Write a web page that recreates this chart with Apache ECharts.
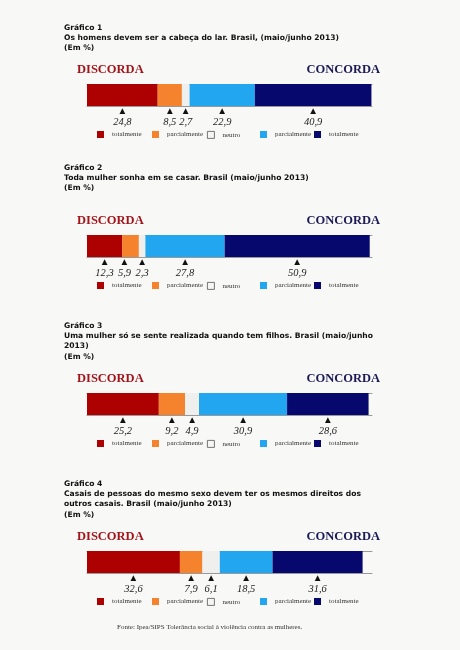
<!DOCTYPE html>
<html>
<head>
<meta charset="utf-8">
<script src="https://cdn.jsdelivr.net/npm/echarts@6/dist/echarts.min.js"></script>
<style>
html,body{margin:0;padding:0;background:#f8f8f7;}
#c{width:460px;height:650px;}
</style>
</head>
<body>
<div id="c"></div>
<script>
// ---- data ----
var chartTitles = [
  "Gráfico 1\nOs homens devem ser a cabeça do lar. Brasil, (maio/junho 2013)\n(Em %)",
  "Gráfico 2\nToda mulher sonha em se casar. Brasil (maio/junho 2013)\n(Em %)",
  "Gráfico 3\nUma mulher só se sente realizada quando tem filhos. Brasil (maio/junho\n2013)\n(Em %)",
  "Gráfico 4\nCasais de pessoas do mesmo sexo devem ter os mesmos direitos dos\noutros casais. Brasil (maio/junho 2013)\n(Em %)"
];
var categoryLabels = ["totalmente", "parcialmente", "neutro", "parcialmente", "totalmente"];
var seriesKeys = ["disc_total", "disc_parc", "neutro", "conc_parc", "conc_total"];
var values1 = [24.8, 8.5, 2.7, 22.9, 40.9];
var values2 = [12.3, 5.9, 2.3, 27.8, 50.9];
var values3 = [25.2, 9.2, 4.9, 30.9, 28.6];
var values4 = [32.6, 7.9, 6.1, 18.5, 31.6];
var allValues = [values1, values2, values3, values4];
var sideLabels = ["DISCORDA", "CONCORDA"];
var sourceText = "Fonte: Ipea/SIPS Tolerância social à violência contra as mulheres.";

// ---- layout / style ----
var colors = ["#ad0000", "#f5822d", "#efefed", "#22a6ef", "#07086e"];
var titleTops = [22.5, 163, 321, 479];
var gridTops = [84, 235, 393, 551];
var sideTops = [71, 222, 380, 538];
var legendLefts = [97, 152, 207, 260, 314];
var barH = 22;

var option = {
  backgroundColor: "#f8f8f7",
  animation: false,
  title: [], grid: [], xAxis: [], yAxis: [], series: [], legend: [], graphic: []
};

function fmt(v) { return v.toFixed(1).replace(".", ","); }

for (var g = 0; g < 4; g++) {
  option.title.push({
    text: chartTitles[g], left: 64, top: titleTops[g], padding: 0,
    textStyle: { fontFamily: "DejaVu Sans", fontWeight: "bold", fontSize: 7.6, lineHeight: 10.2, color: "#111" }
  });
  option.grid.push({ left: 87, right: 88, top: gridTops[g], height: barH });
  option.xAxis.push({
    gridIndex: g, type: "value", min: 0, max: 100, position: "bottom",
    axisLine: { show: true, lineStyle: { color: "#999", width: 1 } },
    axisTick: { show: false }, axisLabel: { show: false }, splitLine: { show: false }
  });
  option.xAxis.push({
    gridIndex: g, type: "value", min: 0, max: 100, position: "top",
    axisLine: { show: true, lineStyle: { color: "#999", width: 1 } },
    axisTick: { show: false }, axisLabel: { show: false }, splitLine: { show: false }
  });
  option.yAxis.push({
    gridIndex: g, type: "category", data: ["q"],
    axisLine: { show: false }, axisTick: { show: false }, axisLabel: { show: false }, splitLine: { show: false }
  });
  for (var s = 0; s < 5; s++) {
    var offX = 0;
    if (g === 1 && s === 1) offX = -6;
    option.series.push({
      type: "bar", name: seriesKeys[s], stack: "st" + g,
      xAxisIndex: g * 2, yAxisIndex: g, barWidth: "100%",
      data: [allValues[g][s]],
      itemStyle: { color: colors[s] },
      label: {
        show: true, position: "bottom", distance: 0.5, offset: [offX, 0],
        formatter: (function (v) { return function () { return "{t|▲}\n{v|" + fmt(v) + "}"; }; })(allValues[g][s]),
        rich: {
          t: { fontSize: 7.5, lineHeight: 9.5, color: "#111", fontFamily: "DejaVu Sans", align: "center" },
          v: { fontSize: 10.5, lineHeight: 12, color: "#222", fontFamily: "Liberation Serif", fontStyle: "italic", align: "center" }
        }
      }
    });
  }
  for (var k = 0; k < 5; k++) {
    var ld = { name: seriesKeys[k] };
    if (k === 2) ld.itemStyle = { color: "#f6f6f4", borderColor: "#555", borderWidth: 0.8 };
    option.legend.push({
      data: [ld], left: legendLefts[k], top: gridTops[g] + barH + 25,
      itemWidth: 7, itemHeight: 7, icon: "rect", padding: 0, selectedMode: false,
      formatter: (function (lbl) { return function () { return lbl; }; })(categoryLabels[k]),
      textStyle: { fontFamily: "Liberation Serif", fontSize: 7, color: "#333", padding: [0, 0, 0, 3] }
    });
  }
  option.graphic.push({
    type: "text", left: 77, top: sideTops[g] - 8,
    style: { text: sideLabels[0], font: "bold 12.5px 'Liberation Serif'", fill: "#a3141a" }
  });
  option.graphic.push({
    type: "text", right: 80, top: sideTops[g] - 8,
    style: { text: sideLabels[1], font: "bold 12.5px 'Liberation Serif'", fill: "#1b1a55" }
  });
}
option.graphic.push({
  type: "text", left: 117, top: 624,
  style: { text: sourceText, font: "7px 'Liberation Serif'", fill: "#333" }
});

var chart = echarts.init(document.getElementById("c"), null, { renderer: "canvas" });
chart.setOption(option);
</script>
</body>
</html>
